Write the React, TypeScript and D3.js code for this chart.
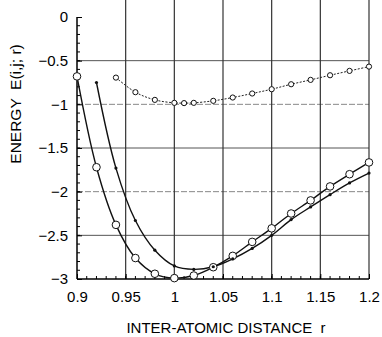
import React, { useEffect, useRef } from 'react';
import * as d3 from 'd3';

// open circles, solid line
const circleR = [0.9, 0.92, 0.94, 0.96, 0.98, 1.0, 1.02, 1.04, 1.06, 1.08, 1.1, 1.12, 1.14, 1.16, 1.18, 1.2];
const circleE = [-0.68, -1.72, -2.38, -2.76, -2.94, -2.99, -2.96, -2.865, -2.735, -2.575, -2.42, -2.25, -2.1, -1.94, -1.8, -1.665];

// small dots, solid line
const dotR = [0.92, 0.94, 0.96, 0.98, 1.0, 1.02, 1.04, 1.06, 1.08, 1.1, 1.12, 1.14, 1.16, 1.18, 1.2];
const dotE = [-0.75, -1.73, -2.33, -2.67, -2.85, -2.89, -2.86, -2.77, -2.65, -2.5, -2.32, -2.175, -2.034, -1.9, -1.787];

// small markers, dotted line
const upperR = [0.94, 0.96, 0.98, 1.0, 1.01, 1.02, 1.04, 1.06, 1.08, 1.1, 1.12, 1.14, 1.16, 1.18, 1.2];
const upperE = [-0.694, -0.861, -0.949, -0.983, -0.986, -0.983, -0.96, -0.922, -0.876, -0.827, -0.77, -0.72, -0.667, -0.617, -0.568];

const xTicks = [0.9, 0.95, 1, 1.05, 1.1, 1.15, 1.2];
const yTicks = [0, -0.5, -1, -1.5, -2, -2.5, -3];

const App = () => {
  const svgRef = useRef(null);

  useEffect(() => {
    const svg = d3.select(svgRef.current);
    svg.selectAll('*').remove();

    const width = 382;
    const height = 337;
    const margin = { top: 17, right: 13, bottom: 58, left: 77 };
    const font = 'Liberation Sans, Arial, sans-serif';

    const x = d3.scaleLinear().domain([0.9, 1.2]).range([margin.left, width - margin.right]);
    const y = d3.scaleLinear().domain([-3, 0]).range([height - margin.bottom, margin.top]);

    // horizontal grid
    svg
      .append('g')
      .selectAll('line')
      .data([-0.5, -1, -1.5, -2, -2.5])
      .enter()
      .append('line')
      .attr('x1', x(0.9))
      .attr('x2', x(1.2))
      .attr('y1', (d) => y(d))
      .attr('y2', (d) => y(d))
      .attr('stroke', (d) => (d === -1 || d === -2 ? '#888' : '#555'))
      .attr('stroke-dasharray', (d) => (d === -1 || d === -2 ? '6,2' : null))
      .attr('stroke-width', 1);

    // vertical grid (runs to top of page)
    svg
      .append('g')
      .selectAll('line')
      .data([0.95, 1, 1.05, 1.1, 1.15, 1.2])
      .enter()
      .append('line')
      .attr('x1', (d) => x(d))
      .attr('x2', (d) => x(d))
      .attr('y1', 0)
      .attr('y2', y(-3))
      .attr('stroke', '#333')
      .attr('stroke-width', 1.2);

    // axes
    const yAxis = d3
      .axisLeft(y)
      .tickValues(yTicks)
      .tickSize(-5)
      .tickPadding(9)
      .tickFormat((d) => (d === 0 ? '0' : d3.format('')(d)));
    const yg = svg.append('g').attr('transform', `translate(${margin.left},0)`).call(yAxis);
    yg.select('.domain').attr('d', `M0,${y(0)}V${y(-3)}`).attr('stroke', '#000').attr('stroke-width', 1.5);
    yg.selectAll('text').attr('font-family', font).attr('font-size', 15).attr('fill', '#000');

    const xAxis = d3.axisBottom(x).tickValues(xTicks).tickSize(-5).tickPadding(12).tickFormat((d) => `${d}`);
    const xg = svg.append('g').attr('transform', `translate(0,${y(-3)})`).call(xAxis);
    xg.select('.domain').attr('d', `M${x(0.9)},0H${x(1.2)}`).attr('stroke', '#000').attr('stroke-width', 1.5);
    xg.selectAll('text').attr('font-family', font).attr('font-size', 15).attr('fill', '#000');

    // minor ticks
    svg
      .append('g')
      .selectAll('line')
      .data(d3.range(-2.9, 0, 0.1).map((v) => +v.toFixed(1)))
      .enter()
      .append('line')
      .attr('x1', x(0.9))
      .attr('x2', x(0.9) + 3)
      .attr('y1', (d) => y(d))
      .attr('y2', (d) => y(d))
      .attr('stroke', '#000');

    svg
      .append('g')
      .selectAll('line')
      .data(d3.range(0.91, 1.2, 0.01).map((v) => +v.toFixed(2)))
      .enter()
      .append('line')
      .attr('x1', (d) => x(d))
      .attr('x2', (d) => x(d))
      .attr('y1', y(-3))
      .attr('y2', y(-3) - 3)
      .attr('stroke', '#000');

    const line = d3
      .line()
      .x((d) => x(d[0]))
      .y((d) => y(d[1]))
      .curve(d3.curveCatmullRom.alpha(0.5));

    const circles = circleR.map((r, i) => [r, circleE[i]]);
    const dots = dotR.map((r, i) => [r, dotE[i]]);
    const upper = upperR.map((r, i) => [r, upperE[i]]);

    svg.append('path').datum(circles).attr('d', line).attr('fill', 'none').attr('stroke', '#111').attr('stroke-width', 1.4);
    svg.append('path').datum(dots).attr('d', line).attr('fill', 'none').attr('stroke', '#111').attr('stroke-width', 1.4);
    svg
      .append('path')
      .datum(upper)
      .attr('d', line)
      .attr('fill', 'none')
      .attr('stroke', '#222')
      .attr('stroke-width', 1)
      .attr('stroke-dasharray', '2,1.5');

    svg
      .append('g')
      .selectAll('circle')
      .data(circles)
      .enter()
      .append('circle')
      .attr('cx', (d) => x(d[0]))
      .attr('cy', (d) => y(d[1]))
      .attr('r', 3.8)
      .attr('fill', 'white')
      .attr('stroke', '#111')
      .attr('stroke-width', 1);

    svg
      .append('g')
      .selectAll('circle')
      .data(dots)
      .enter()
      .append('circle')
      .attr('cx', (d) => x(d[0]))
      .attr('cy', (d) => y(d[1]))
      .attr('r', 1.6)
      .attr('fill', '#111');

    svg
      .append('g')
      .selectAll('circle')
      .data(upper)
      .enter()
      .append('circle')
      .attr('cx', (d) => x(d[0]))
      .attr('cy', (d) => y(d[1]))
      .attr('r', 2.6)
      .attr('fill', 'white')
      .attr('stroke', '#111')
      .attr('stroke-width', 1);

    // axis titles
    svg
      .append('text')
      .attr('transform', `translate(21,104) rotate(-90)`)
      .attr('text-anchor', 'middle')
      .attr('font-family', font)
      .attr('font-size', 15.5)
      .attr('xml:space', 'preserve')
      .text('ENERGY  E(i,j; r)');

    svg
      .append('text')
      .attr('x', 226)
      .attr('y', 333)
      .attr('text-anchor', 'middle')
      .attr('font-family', font)
      .attr('font-size', 15)
      .attr('xml:space', 'preserve')
      .text('INTER-ATOMIC DISTANCE  r');
  }, []);

  return (
    <svg
      ref={svgRef}
      width={382}
      height={337}
      style={{ position: 'absolute', left: 0, top: 0, background: '#fff' }}
    />
  );
};

export default App;
